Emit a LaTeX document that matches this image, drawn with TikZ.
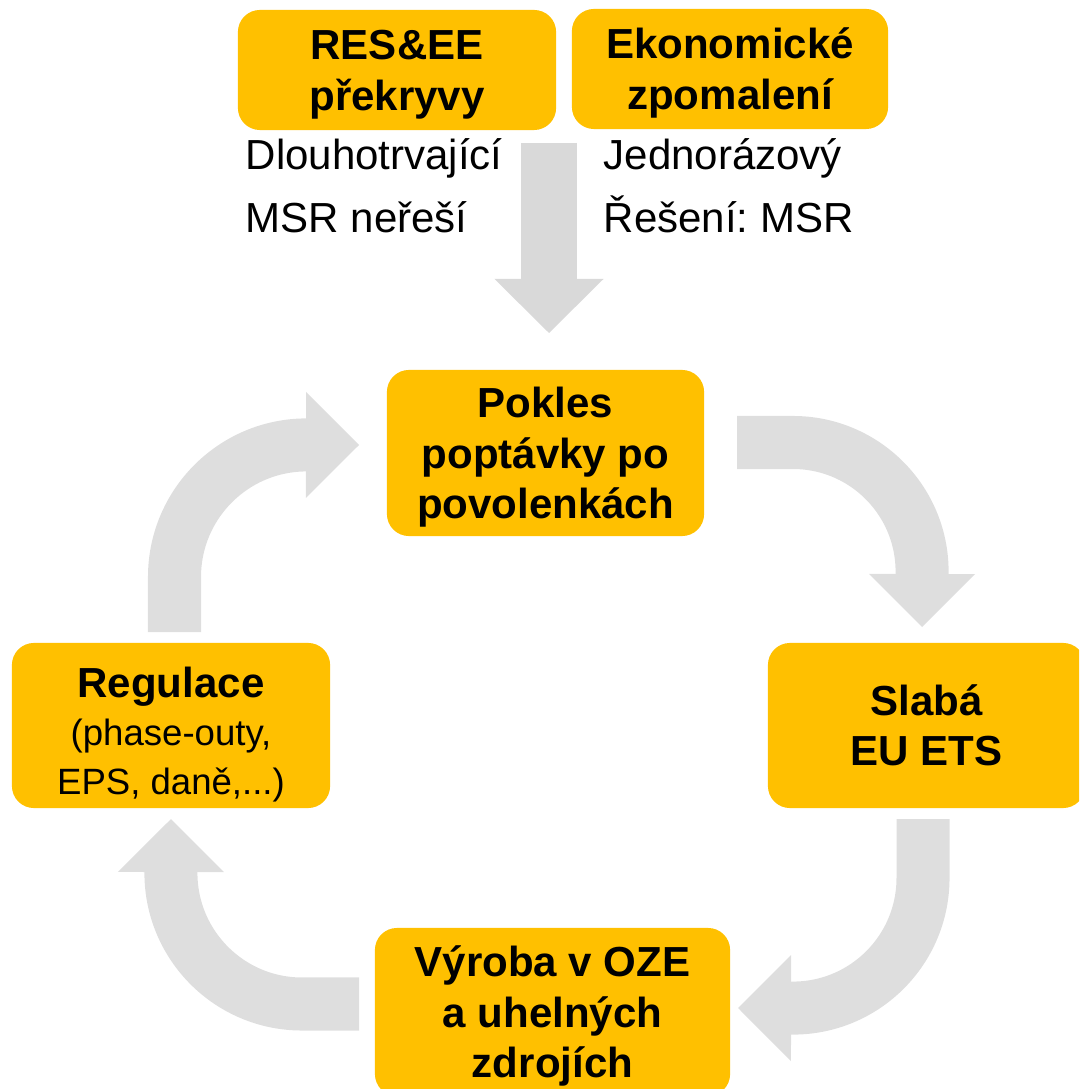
\documentclass[tikz,border=0pt]{standalone}
\usepackage{fontspec}
\setmainfont{Liberation Sans}
\frenchspacing
\usetikzlibrary{arrows.meta}
\definecolor{boxyellow}{HTML}{FFC000}
\definecolor{loopgray}{HTML}{DEDEDE}
\definecolor{downgray}{HTML}{D9D9D9}

\begin{document}
\begin{tikzpicture}[x=0.01cm, y=-0.01cm,
        box/.style = {fill=boxyellow, rounded corners=0.22cm, inner sep=0pt,
                      align=center, text height=23pt, text depth=0pt,
                      font=\fontsize{11.95}{14.4}\selectfont\bfseries},
       note/.style = {anchor=base west, inner sep=0pt,
                      font=\fontsize{11.95}{14.4}\selectfont},
  looparrow/.style = {draw=loopgray, line width=0.53cm,
                      -{Triangle[width=1.06cm, length=0.53cm, line width=0pt]}}
                        ]
    % Page size of the picture
    \clip (0,0) rectangle (1079,1089);

    % The two causes on top
    \node (res) at (397,70) [box, minimum width=3.18cm, minimum height=1.2cm]
        {RES\&EE\\překryvy};
    \node (eko) at (730,69) [box, minimum width=3.16cm, minimum height=1.2cm]
        {Ekonomické\\zpomalení};

    \node (dlouho) at (245,170) [note] {Dlouhotrvající};
    \node (msrne)  at (245,233) [note] {MSR neřeší};
    \node (jedno)  at (603,170) [note] {Jednorázový};
    \node (reseni) at (603,233) [note] {Řešení: MSR};

    % The cycle
    \node (pokles) at (545.5,453) [box, minimum width=3.17cm, minimum height=1.66cm,
                                   text height=37.4pt]
        {Pokles\\poptávky po\\povolenkách};
    \node (slaba) at (926.5,725.5) [box, minimum width=3.17cm, minimum height=1.65cm]
        {Slabá\\EU ETS};
    \node (vyroba) at (552.5,1012) [box, minimum width=3.55cm, minimum height=1.68cm,
                                    text height=37.4pt]
        {Výroba v OZE\\a uhelných\\zdrojích};
    \node (regulace) at (171,725.5) [box, minimum width=3.18cm, minimum height=1.65cm,
                                     text height=39pt,
                                     font=\fontsize{10.4}{13.7}\selectfont]
        {{\fontsize{11.95}{14.4}\selectfont\bfseries Regulace}\\(phase-outy,\\EPS, daně,...)};

    % Ends of the arrows
    \coordinate (downtop) at (549,143);
    \coordinate (downtip) at (549,333);
    \coordinate (regout)  at (174.5,632);
    \coordinate (poktip)  at (359,445);
    \coordinate (pokout)  at (737,442.5);
    \coordinate (slatip)  at (922,627);
    \coordinate (slaout)  at (923,819);
    \coordinate (vyrtip)  at (738,1008);
    \coordinate (vyrout)  at (359,1004);
    \coordinate (regtip)  at (171,819);

    \draw[draw=downgray, line width=0.56cm,
          -{Triangle[width=1.09cm, length=0.54cm, line width=0pt]}] (downtop) -- (downtip);

    \draw[looparrow] (regout) -- ++(0,-55) arc[start angle=180, end angle=90, radius=1.32cm] -- (poktip);
    \draw[looparrow] (pokout) -- ++(56,0) arc[start angle=90, end angle=0, radius=1.29cm] -- (slatip);
    \draw[looparrow] (slaout) -- ++(0,59) arc[start angle=0, end angle=-90, radius=1.30cm] -- (vyrtip);
    \draw[looparrow] (vyrout) -- ++(-57,0) arc[start angle=270, end angle=180, radius=1.31cm] -- (regtip);

\end{tikzpicture}
\end{document}
